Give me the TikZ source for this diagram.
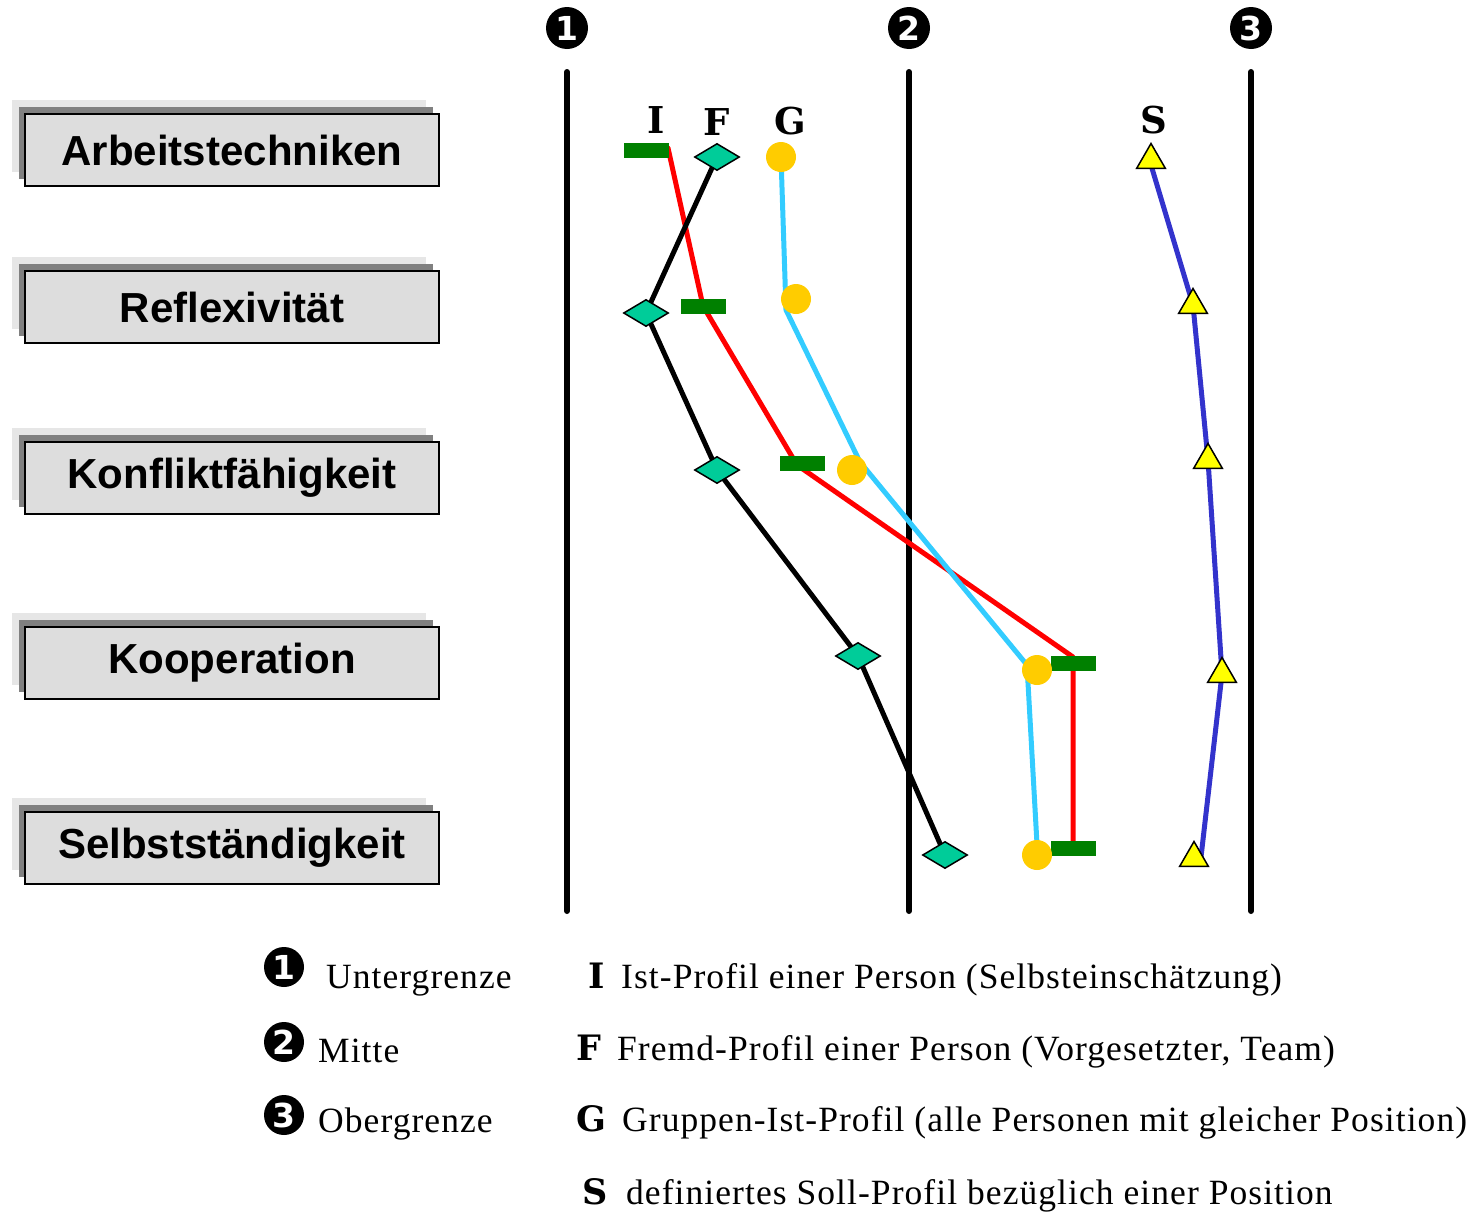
\documentclass[tikz,border=0pt]{standalone}
\usepackage{fontspec}
\setmainfont{Liberation Serif}
\newfontfamily\boxfont{Liberation Sans}
\newfontfamily\letfont{DejaVu Serif}
\newfontfamily\legfont{Liberation Serif}[LetterSpace=3]
\newfontfamily\digfont{DejaVu Sans}
\usetikzlibrary{shapes.geometric}
\definecolor{boxfill}{HTML}{DDDDDD}
\definecolor{shadowdark}{HTML}{808080}
\definecolor{shadowlight}{HTML}{E6E6E6}
\definecolor{igreen}{HTML}{008000}
\definecolor{fteal}{HTML}{00CC99}
\definecolor{gyellow}{HTML}{FFCC00}
\definecolor{glblue}{HTML}{33CCFF}
\definecolor{syellow}{HTML}{FFFF00}
\definecolor{sblue}{HTML}{3333CC}
\definecolor{ired}{HTML}{FF0000}
\pgfdeclarelayer{bg}
\pgfsetlayers{bg,main}
\tikzset{
  catbox/.style={draw=black, line width=1.5pt, fill=boxfill, minimum width=414pt, minimum height=72pt, inner sep=0pt,
    font=\boxfont\bfseries\fontsize{42}{48}\selectfont},
  axisline/.style={line width=6pt, line cap=round},
  numcirc/.style={circle, fill=black, inner sep=0pt, minimum size=#1, text=white, font=\digfont\bfseries\fontsize{33}{36}\selectfont},
  imark/.style={rectangle, fill=igreen, minimum width=45pt, minimum height=15pt, inner sep=0pt},
  fmark/.style={diamond, draw=black, line width=1.5pt, fill=fteal, minimum width=45pt, minimum height=27pt, inner sep=0pt},
  gmark/.style={circle, fill=gyellow, minimum size=30pt, inner sep=0pt},
  smark/.style={regular polygon, regular polygon sides=3, draw=black, line width=1.5pt, fill=syellow, minimum size=33pt, inner sep=0pt},
  profline/.style={line width=5pt, line cap=round, line join=round},
  serieslabel/.style={inner sep=0pt, font=\letfont\bfseries\fontsize{37}{40}\selectfont},
  leglabel/.style={inner sep=0pt, anchor=base, font=\letfont\bfseries\fontsize{35}{38}\selectfont},
  legtext/.style={inner sep=0pt, anchor=base west, font=\legfont\fontsize{35.5}{40}\selectfont},
}
\newcommand\catbox[3]{%
  \fill[shadowlight] (12,{#2-50}) rectangle (426,{#2+22});
  \fill[shadowdark] (19,{#2-43}) rectangle (433,{#2+29});
  \node[catbox] (#1) at (232,#2) {#3};
}
\begin{document}
\begin{tikzpicture}[x=1pt,y=-1pt]
\useasboundingbox (0,0) rectangle (1475,1213);

% category boxes
\catbox{b1}{150}{Arbeitstechniken}
\catbox{b2}{307}{Reflexivität}
\catbox{b3}{478}{Konfliktfähigkeit}
\catbox{b4}{663}{Kooperation}
\catbox{b5}{848}{Selbstständigkeit}

% axes
\node[numcirc=42pt] (n1) at (567,28) {1};
\node[numcirc=42pt] (n2) at (909,28) {2};
\node[numcirc=42pt] (n3) at (1251,28) {3};
\coordinate (a1t) at (567,72); \coordinate (a1b) at (567,911);
\coordinate (a2t) at (909,72); \coordinate (a2b) at (909,911);
\coordinate (a3t) at (1251,72); \coordinate (a3b) at (1251,911);

% series labels
\node[serieslabel] (lI) at (656,120) {I};
\node[serieslabel] (lF) at (717,122) {F};
\node[serieslabel] (lG) at (790,121) {G};
\node[serieslabel] (lS) at (1154,120) {S};

% I markers
\node[imark] (i1) at (646,150) {};
\node[imark] (i2) at (703,306) {};
\node[imark] (i3) at (802,463) {};
\node[imark] (i4) at (1073,663) {};
\node[imark] (i5) at (1073,848) {};
% F markers
\node[fmark] (f1) at (717,157) {};
\node[fmark] (f2) at (646,313) {};
\node[fmark] (f3) at (717,470) {};
\node[fmark] (f4) at (858,656) {};
\node[fmark] (f5) at (945,855) {};
% G markers
\node[gmark] (g1) at (781,157) {};
\node[gmark] (g2) at (796,299) {};
\node[gmark] (g3) at (852,470) {};
\node[gmark] (g4) at (1037,670) {};
\node[gmark] (g5) at (1037,855) {};
% S markers
\node[smark] (s1) at (1151,160) {};
\node[smark] (s2) at (1193,305) {};
\node[smark] (s3) at (1208,460) {};
\node[smark] (s4) at (1222,674) {};
\node[smark] (s5) at (1194,858) {};

% line vertices
\coordinate (iv1) at (668,148);
\coordinate (iv3) at (797,465);
\coordinate (iv4) at (1073,657);
\coordinate (iv5) at (1073,845);
\coordinate (gv2) at (786,310);
\coordinate (gv3) at (860,462);
\coordinate (gv4) at (1027,665);
\coordinate (gv5) at (1038,862);
\coordinate (sv1) at (1151,165);
\coordinate (sv5) at (1201,857);

\begin{pgfonlayer}{bg}
\draw[axisline] (a1t) -- (a1b);
\draw[axisline] (a2t) -- (a2b);
\draw[axisline] (a3t) -- (a3b);
\draw[profline, ired] (iv1) -- (i2.center) -- (iv3) -- (iv4) -- (iv5);
\draw[profline, black] (f1.center) -- (f2.center) -- (f3.center) -- (f4.center) -- (f5.center);
\draw[profline, glblue] (g1.center) -- (gv2) -- (gv3) -- (gv4) -- (gv5);
\draw[profline, sblue] (sv1) -- (s2.center) -- (s3.center) -- (s4.center) -- (sv5);
\end{pgfonlayer}

% legend left
\node[numcirc=40pt] (c1) at (284,967) {1};
\node[numcirc=40pt] (c2) at (284,1042) {2};
\node[numcirc=40pt] (c3) at (284,1115) {3};
\node[legtext] (t1) at (326,988) {Untergrenze};
\node[legtext] (t2) at (318,1062) {Mitte};
\node[legtext] (t3) at (318,1132) {Obergrenze};

% legend right
\node[leglabel] (kI) at (597,988) {I};
\node[leglabel] (kF) at (589,1060) {F};
\node[leglabel] (kG) at (591,1131) {G};
\node[leglabel] (kS) at (595,1204) {S};
\node[legtext] (d1) at (621,988) {Ist-Profil einer Person (Selbsteinschätzung)};
\node[legtext] (d2) at (617,1060) {Fremd-Profil einer Person (Vorgesetzter, Team)};
\node[legtext] (d3) at (622,1131) {Gruppen-Ist-Profil (alle Personen mit gleicher Position)};
\node[legtext] (d4) at (626,1204) {definiertes Soll-Profil bezüglich einer Position};
\end{tikzpicture}
\end{document}
